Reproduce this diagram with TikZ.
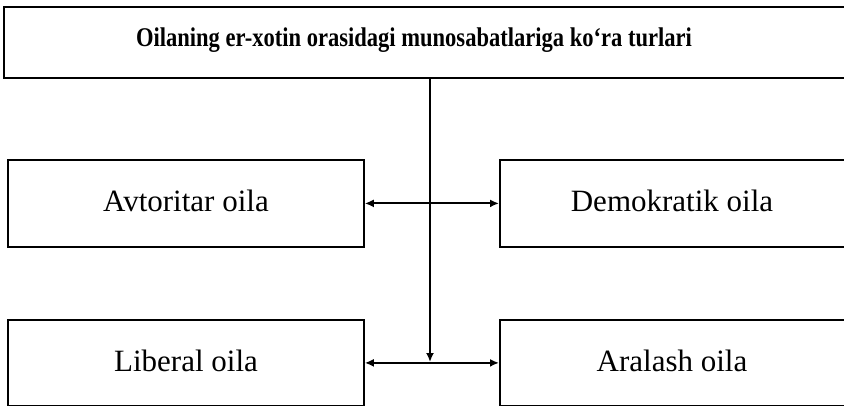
\documentclass[tikz,border=0pt]{standalone}
\usepackage{fontspec}
\setmainfont{Liberation Serif}
\usetikzlibrary{arrows.meta}
\begin{document}
\begin{tikzpicture}[x=1pt,y=-1pt,
  box/.style={draw=black,line width=1.8pt,inner sep=0pt,anchor=north west},
  lbl/.style={font=\fontsize{31}{36}\selectfont,inner sep=0pt,anchor=base},
  ttl/.style={font=\fontsize{27}{32}\selectfont\bfseries,inner sep=0pt,anchor=base,xscale=0.835},
  conn/.style={line width=1.9pt,{Latex[length=9pt,width=8pt]}-{Latex[length=9pt,width=8pt]}},
  down/.style={line width=1.9pt,-{Latex[length=9pt,width=8pt]}}]
\useasboundingbox (0,0) rectangle (844,406);
\node[box,minimum width=850pt,minimum height=71pt] (top) at (3,6) {};
\node[ttl] (ttltext) at (414,47) {Oilaning er-xotin orasidagi munosabatlariga ko‘ra turlari};
\node[box,minimum width=356pt,minimum height=87pt] (avt) at (7,159) {};
\node[box,minimum width=360pt,minimum height=87pt] (dem) at (499,159) {};
\node[box,minimum width=356pt,minimum height=86pt] (lib) at (7,319) {};
\node[box,minimum width=360pt,minimum height=86pt] (ara) at (499,319) {};
\node[lbl] (avttext) at (186,212) {Avtoritar oila};
\node[lbl] (demtext) at (672,212) {Demokratik oila};
\node[lbl] (libtext) at (186,371) {Liberal oila};
\node[lbl] (aratext) at (672,371) {Aralash oila};
\coordinate (j1) at (430,362);
\draw[down] (top.south -| j1) -- (j1);
\draw[conn] (avt.east) -- (dem.west);
\draw[conn] (lib.east) -- (ara.west);
\end{tikzpicture}
\end{document}
